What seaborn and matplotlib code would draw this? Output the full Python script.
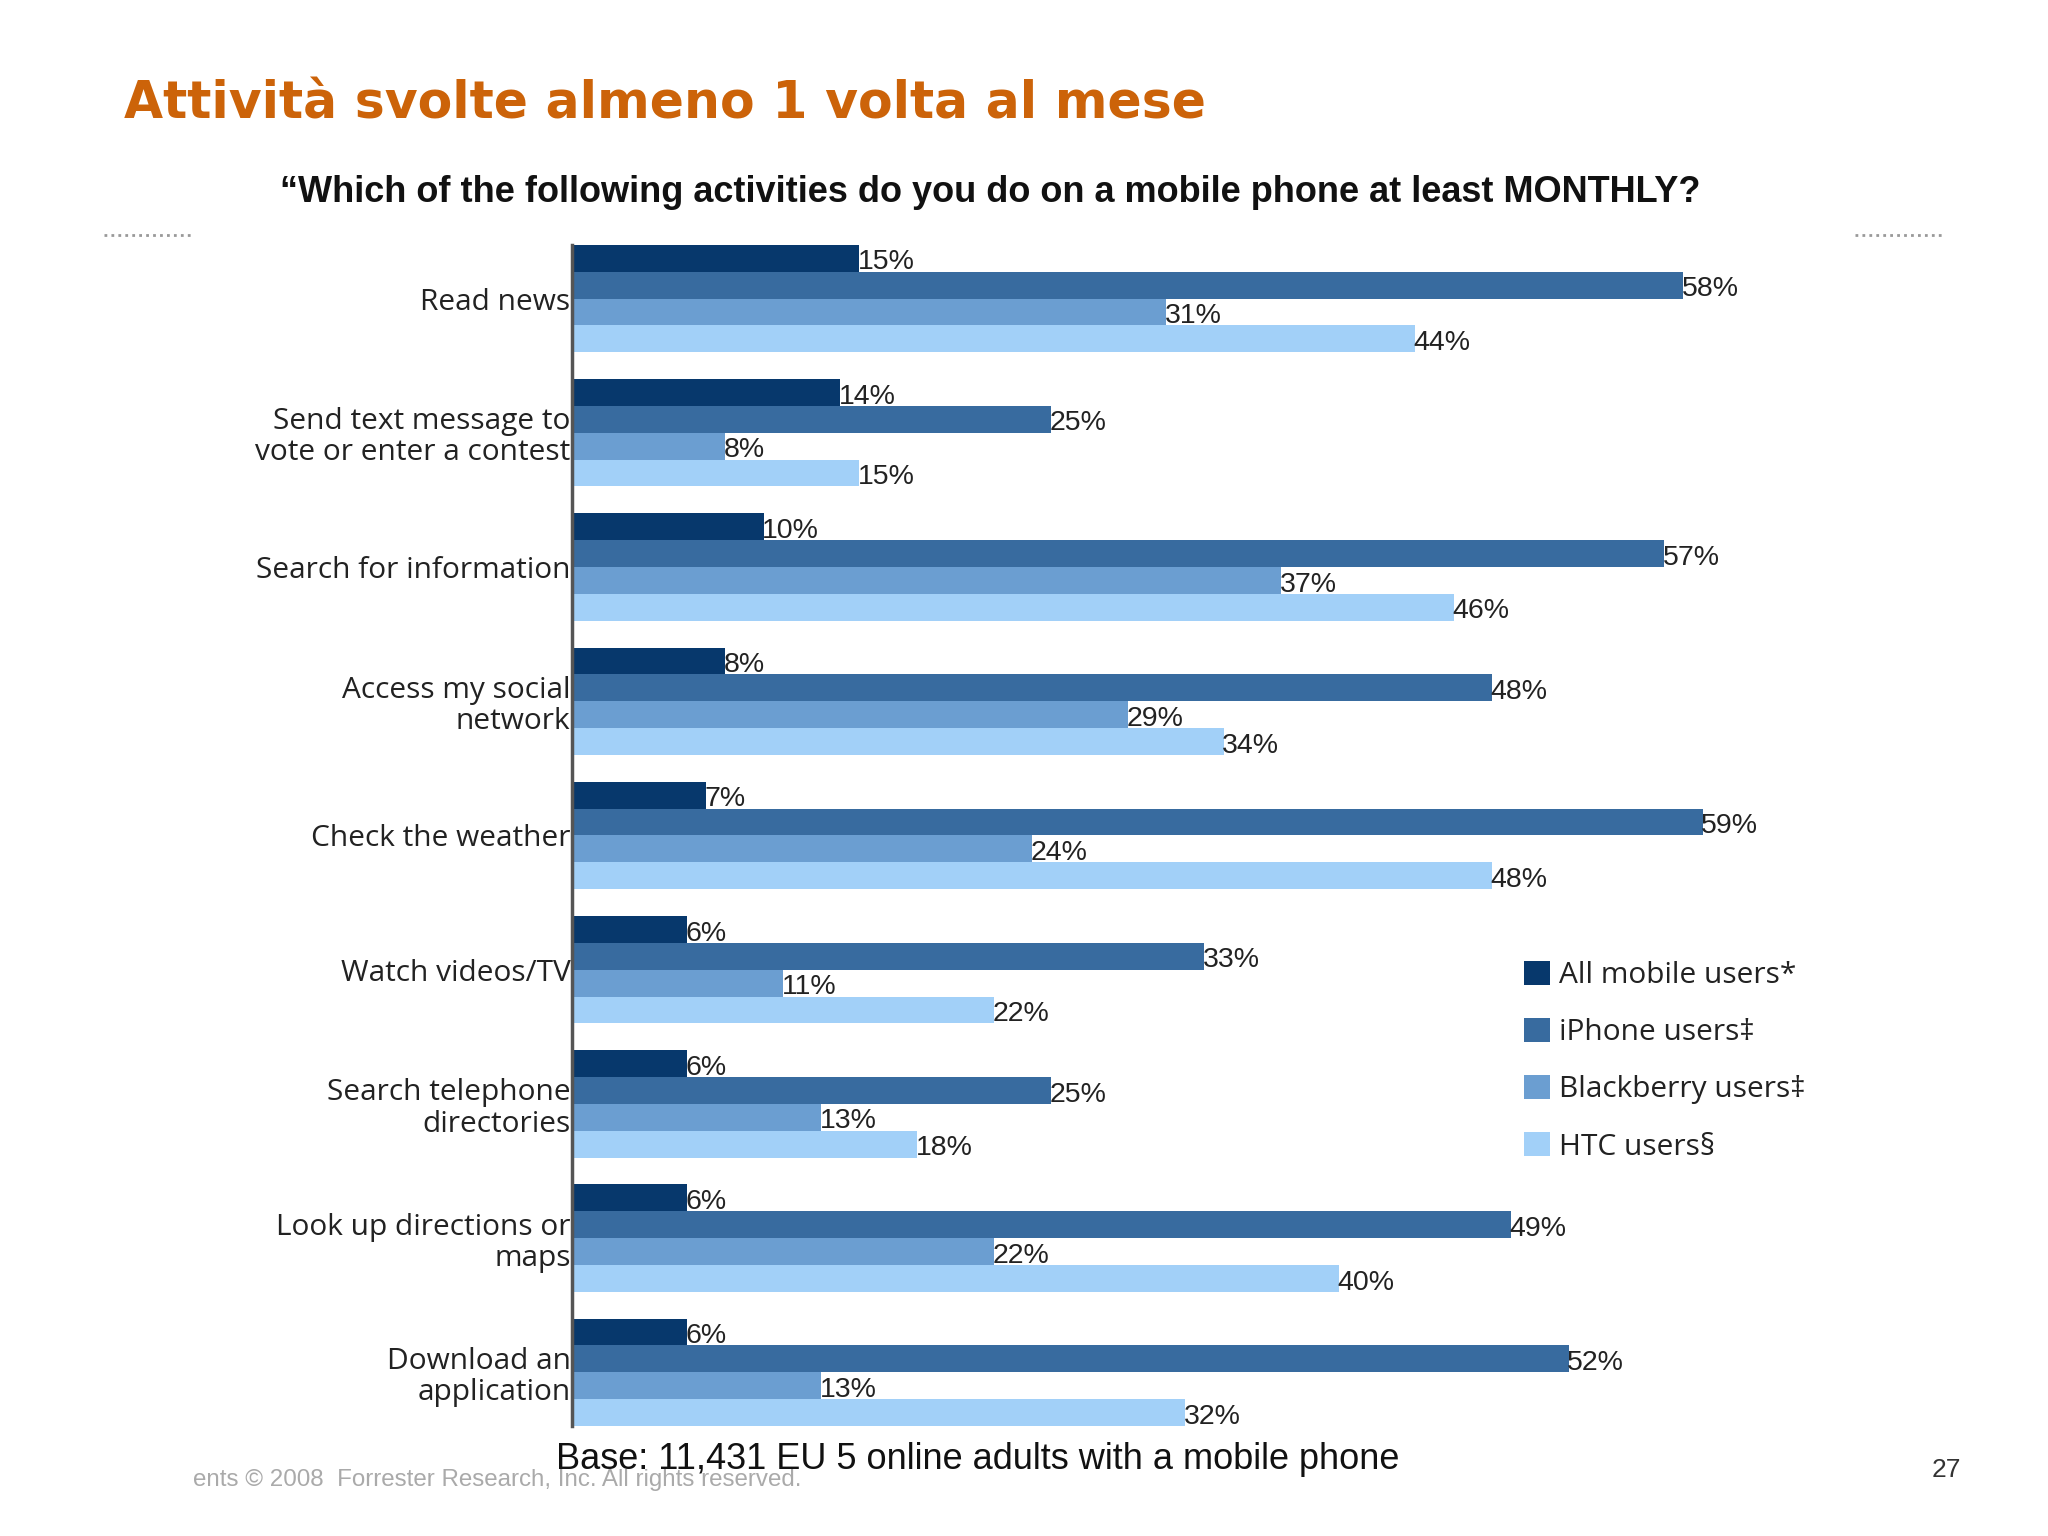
import pandas as pd
import matplotlib.pyplot as plt
from matplotlib.lines import Line2D
import seaborn as sns

# Data
activities = [
    "Read news",
    "Send text message to\nvote or enter a contest",
    "Search for information",
    "Access my social\nnetwork",
    "Check the weather",
    "Watch videos/TV",
    "Search telephone\ndirectories",
    "Look up directions or\nmaps",
    "Download an\napplication",
]
groups = ["All mobile users*", "iPhone users\u2021", "Blackberry users\u2021", "HTC users\u00a7"]
all_mobile = [15, 14, 10, 8, 7, 6, 6, 6, 6]
iphone = [58, 25, 57, 48, 59, 33, 25, 49, 52]
blackberry = [31, 8, 37, 29, 24, 11, 13, 22, 13]
htc = [44, 15, 46, 34, 48, 22, 18, 40, 32]

colors = ["#07386c", "#386b9f", "#6b9ed1", "#a2d0f8"]

df = pd.DataFrame({
    "activity": activities * 4,
    "group": [g for g in groups for _ in activities],
    "value": all_mobile + iphone + blackberry + htc,
})

sns.set_style("white")
label_font = ["Open Sans", "DejaVu Sans"]
narrow_font = ["Liberation Sans Narrow", "Liberation Sans", "DejaVu Sans"]

fig = plt.figure(figsize=(20.48, 15.36), dpi=100)
ax = fig.add_axes([0.2793, 0.0716, 0.655, 0.769])

sns.barplot(data=df, y="activity", x="value", hue="group", orient="h",
            palette=colors, saturation=1, width=0.8, linewidth=0, ax=ax)

ax.set_xlim(0, 70)
ax.set_ylim(8.4, -0.4)
ax.set_xlabel("")
ax.set_ylabel("")
ax.set_xticks([])
sns.despine(ax=ax, top=True, right=True, bottom=True, left=False)
ax.spines["left"].set_color("#555555")
ax.spines["left"].set_linewidth(2.5)
ax.tick_params(axis="y", length=0, pad=1)
for lbl in ax.get_yticklabels():
    lbl.set_fontfamily(label_font)
    lbl.set_fontsize(21.5)
    lbl.set_color("#222222")
    lbl.set_linespacing(1.1)

# value labels
for cont in ax.containers:
    anns = ax.bar_label(cont, fmt="%d%%", padding=-1, fontsize=20.5,
                        family=narrow_font, color="#222222")
    for a in anns:
        a.xyann = (-1, -3)

# legend
ax.legend(loc="upper left", bbox_to_anchor=(0.710, 0.394), frameon=False,
          borderaxespad=0, borderpad=0, handlelength=0.87, handleheight=0.87,
          handletextpad=0.3, labelspacing=0.93,
          prop={"family": label_font, "size": 21.5}, labelcolor="#222222")

# titles and footer
fig.text(124 / 2048, 0.932, "Attivit\u00e0 svolte almeno 1 volta al mese",
         fontsize=36.4, fontweight="bold", color="#cc6309",
         family="DejaVu Sans", va="center", ha="left")
fig.text(0.4836, 0.875,
         "\u201cWhich of the following activities do you do on a mobile phone at least MONTHLY?",
         fontsize=26, fontweight="bold", color="#111111",
         family=["Liberation Sans", "DejaVu Sans"], va="center", ha="center")
fig.text(556 / 2048, 0.0495, "Base: 11,431 EU 5 online adults with a mobile phone",
         fontsize=26, color="#111111", family=narrow_font, va="center", ha="left")
fig.text(193 / 2048, 0.0365, "ents \u00a9 2008  Forrester Research, Inc. All rights reserved.",
         fontsize=17.4, color="#aaaaaa", family=narrow_font, va="center", ha="left")
fig.text(1946 / 2048, 0.043, "27", fontsize=19, color="#333333",
         family=narrow_font, va="center", ha="center")

# dotted separators
for x0, x1 in [(104, 192), (1855, 1942)]:
    fig.add_artist(Line2D([x0 / 2048, x1 / 2048], [1 - 235 / 1536] * 2,
                          transform=fig.transFigure, color="#999999",
                          linestyle=(0, (1, 1.5)), linewidth=2))

fig.savefig("out.png", dpi=100)
